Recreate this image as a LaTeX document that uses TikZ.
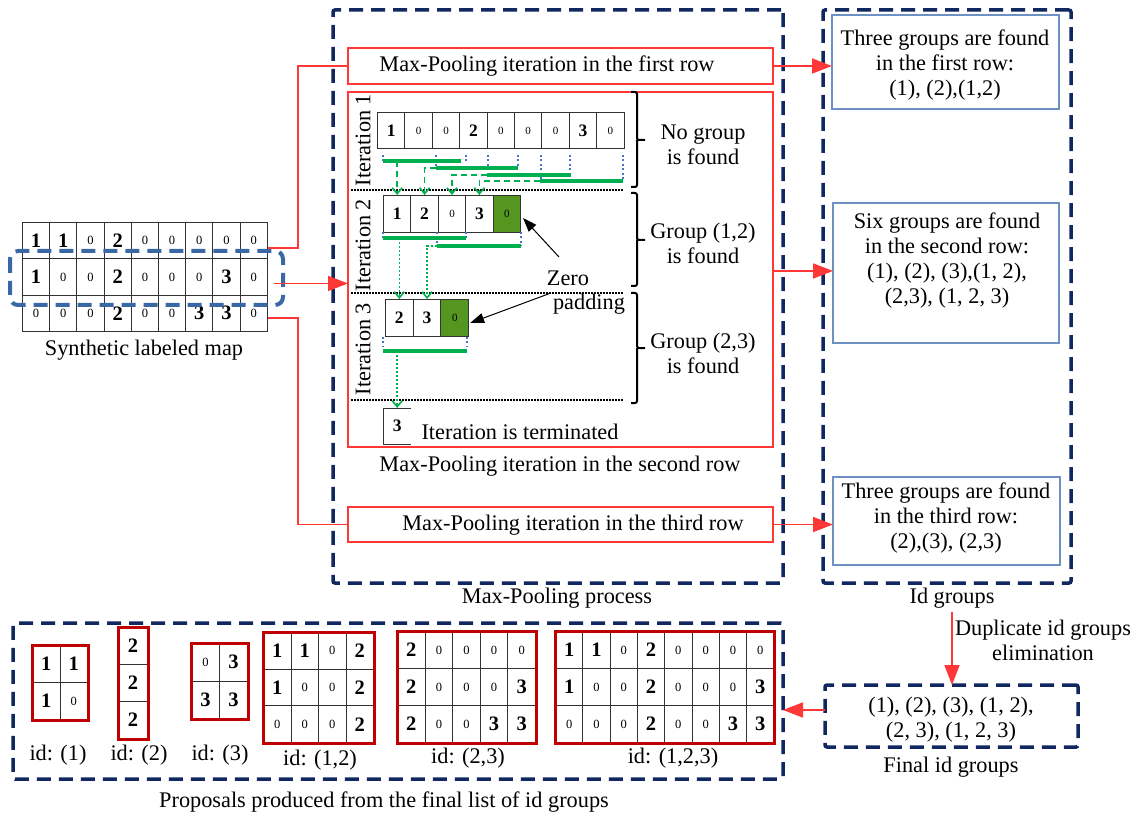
\documentclass[tikz,border=0pt]{standalone}
\usepackage{fontspec}
\setmainfont{Liberation Serif}
\usetikzlibrary{arrows.meta,calc,fit}
\definecolor{navy}{RGB}{16,40,95}
\definecolor{rowblue}{RGB}{58,104,165}
\definecolor{redl}{RGB}{255,55,55}
\definecolor{boxblue}{RGB}{110,145,195}
\definecolor{darkred}{RGB}{192,0,0}
\definecolor{gbar}{RGB}{0,176,80}
\definecolor{padgreen}{RGB}{84,150,31}
\definecolor{dotblue}{RGB}{68,114,196}
\newcommand\cellv[1]{\ifnum#1=0 {\fontsize{12.5}{12.5}\selectfont 0}\else{\fontsize{20.5}{20.5}\selectfont\bfseries #1}\fi}
\newcommand\cellw[1]{\ifnum#1=0 {\fontsize{11}{11}\selectfont 0}\else{\fontsize{17.5}{17.5}\selectfont\bfseries #1}\fi}
\tikzset{
  txt/.style={font=\fontsize{22.3}{25}\selectfont, inner sep=0pt, align=center},
  navybox/.style={draw=navy, line width=3.5pt, dash pattern=on 14pt off 8pt, rounded corners=2pt, inner sep=0pt, outer sep=0pt, anchor=north west},
  redbox/.style={draw=redl, line width=1.5pt, inner sep=0pt, outer sep=0pt, anchor=north west},
  bluebox/.style={draw=boxblue, line width=1.2pt, inner sep=0pt, outer sep=0pt, anchor=north west},
  redarrow/.style={color=redl, line width=1.8pt, -{Triangle[length=20pt,width=15pt]}},
  redline/.style={color=redl, line width=1.8pt},
  cellbox/.style={draw=black!80, line width=1pt, inner sep=0pt, anchor=north west},
  propbox/.style={draw=darkred, line width=3pt, inner sep=0pt},
  gbarst/.style={draw=gbar, line width=4pt},
  gdash/.style={color=gbar, line width=1.6pt, dash pattern=on 6pt off 4pt, -{Straight Barb[length=6pt,width=10pt]}},
  gdot/.style={color=gbar, line width=1.6pt, dash pattern=on 2pt off 2pt, -{Straight Barb[length=6pt,width=10pt]}},
  bdot/.style={color=dotblue, line width=2pt, dash pattern=on 2pt off 2.5pt},
  kdot/.style={draw=black, line width=1.5pt, dash pattern=on 1.5pt off 1.5pt},
  brk/.style={draw=black, line width=2pt, rounded corners=2pt},
  zarrow/.style={draw=black, line width=1pt, -{Triangle[length=14pt,width=10pt]}},
}
\newcommand\propgrid[6]{%
  \foreach \row [count=\r] in {#6} {
    \foreach \v [count=\c] in \row {
      \node[cellbox, minimum width=#4pt, minimum height=#5pt] (#1-\r-\c) at ({#2+(\c-1)*#4},{#3+(\r-1)*#5}) {\cellv{\v}};
    }
  }%
}
\begin{document}
\begin{tikzpicture}[x=1pt,y=-1pt]
\useasboundingbox (0,0) rectangle (1146,818);

% ---- dashed frames
\node[navybox, minimum width=450pt, minimum height=573pt] (mp) at (333,10) {};
\node[navybox, minimum width=248pt, minimum height=573pt] (idg) at (823,10) {};
\node[navybox, minimum width=770pt, minimum height=156pt] (prop) at (13,623) {};
\node[navybox, minimum width=253pt, minimum height=62pt] (fin) at (825,685) {};

% ---- synthetic map
\propgrid{m}{22}{222}{27.2}{36.3}{{1,1,0,2,0,0,0,0,0},{1,0,0,2,0,0,0,3,0},{0,0,0,2,0,0,3,3,0}}
\draw[rowblue, line width=4pt, dash pattern=on 14pt off 8pt, rounded corners=8pt] (10,251) rectangle (283,305);
\node[txt] (lmap) at (144,350) {Synthetic labeled map};

% ---- red boxes
\node[redbox, minimum width=425pt, minimum height=36pt] (r1) at (348,48) {};
\node[txt] (r1t) at (547,66) {Max-Pooling iteration in the first row};
\node[redbox, minimum width=425pt, minimum height=355pt] (it) at (348,92) {};
\node[redbox, minimum width=425pt, minimum height=35pt] (r3) at (348,507) {};
\node[txt] (r3t) at (573,525) {Max-Pooling iteration in the third row};
\node[txt] (l2) at (560,466) {Max-Pooling iteration in the second row};
\node[txt] (lmp) at (557,598) {Max-Pooling process};

% ---- blue boxes
\node[bluebox, minimum width=227pt, minimum height=94pt] (b1) at (832,15) {};
\node[txt] (b1t) at (945,65) {Three groups are found\\in the first row:\\(1), (2),(1,2)};
\node[bluebox, minimum width=226pt, minimum height=140pt] (b2) at (833,203) {};
\node[txt] (b2t) at (947,261) {Six groups are found\\in the second row:\\(1), (2), (3),(1, 2),\\ (2,3), (1, 2, 3)};
\node[bluebox, minimum width=227pt, minimum height=88pt] (b3) at (833,477) {};
\node[txt] (b3t) at (946,518) {Three groups are found\\in the third row:\\(2),(3), (2,3)};
\node[txt] (lidg) at (952,598) {Id groups};
\node[txt] (ldup) at (1043,640) {Duplicate id groups\\elimination};
\node[txt] (fint) at (951,720) {(1), (2), (3), (1, 2),\\(2, 3), (1, 2, 3)};
\node[txt] (lfin) at (951,767) {Final id groups};
\node[txt] (lprop) at (384,802) {Proposals produced from the final list of id groups};

% ---- red connectors
\coordinate (vx) at (298,0);
\coordinate (m1e) at ($(m-1-9.east)+(0,7.5)$);
\coordinate (m2e) at ($(m-2-9.east)+(6,6.5)$);
\coordinate (m3e) at ($(m-3-9.east)+(0,4.5)$);
\draw[redline] (m1e) -| (vx |- r1.west) -- (r1.west);
\draw[redarrow] (m2e) -- (m2e -| it.west);
\draw[redline] (m3e) -| (vx |- r3.west) -- (r3.west);
\draw[redarrow] (r1.east) -- (r1.east -| b1.west);
\coordinate (ite) at ($(it.east)+(0,1.5)$);
\draw[redarrow] (ite) -- (ite -| b2.west);
\draw[redarrow] (r3.east) -- (r3.east -| b3.west);
\coordinate (ls) at ($(lidg.south)+(0,4)$);
\draw[redarrow] (ls) -- (ls |- fin.north);
\coordinate (fw) at ($(fin.west)+(0,-6)$);
\draw[redarrow] (fw) -- (fw -| prop.east);

% ---- iteration labels and separators
\node[txt, rotate=90] (i1) at (363,140) {Iteration 1};
\node[txt, rotate=90] (i2) at (363,245) {Iteration 2};
\node[txt, rotate=90] (i3) at (363,349) {Iteration 3};
\draw[kdot] (351,190) -- (623,190);
\draw[kdot] (351,293) -- (623,293);
\draw[kdot] (351,400) -- (623,400);

% ---- iteration 1
\foreach \v [count=\c] in {1,0,0,2,0,0,0,3,0}
  \node[cellbox, minimum width=27.4pt, minimum height=36pt] (a-\c) at ({377+(\c-1)*27.4},112) {\cellw{\v}};
\foreach \x/\y in {383/161,466/161,436/168,518/168,488/175,570/175,541/181,623/181}
  \draw[bdot] (\x,155) -- (\x,\y);

% ---- iteration 2 cells
\foreach \v [count=\c] in {1,2,0,3}
  \node[cellbox, minimum width=27.4pt, minimum height=37pt] (b-\c) at ({383+(\c-1)*27.4},195) {\cellw{\v}};
\node[cellbox, fill=padgreen, minimum width=27.4pt, minimum height=37pt] (b-5) at ({383+4*27.4},195) {\cellw{0}};

\coordinate (g1s) at (383,161); \coordinate (g1e) at (461,161);
\coordinate (g2s) at (436,168); \coordinate (g2e) at (518,168);
\coordinate (g3s) at (487,175); \coordinate (g3e) at (571,175);
\coordinate (g4s) at (540,181); \coordinate (g4e) at (623,181);
\draw[gdash] (g1s -| b-1.north) -- (b-1.north);
\draw[gdash] (g2s) -| (b-2.north);
\draw[gdash] (g3s) -| (b-3.north);
\draw[gdash] (g4s) -| (b-4.north);
\draw[gbarst] (g1s) -- (g1e);
\draw[gbarst] (g2s) -- (g2e);
\draw[gbarst] (g3s) -- (g3e);
\draw[gbarst] (g4s) -- (g4e);

% ---- iteration 3 cells
\foreach \v [count=\c] in {2,3}
  \node[cellbox, minimum width=27.7pt, minimum height=37pt] (c-\c) at ({385+(\c-1)*27.7},299) {\cellw{\v}};
\node[cellbox, fill=padgreen, minimum width=27.7pt, minimum height=37pt] (c-3) at ({385+2*27.7},299) {\cellw{0}};

\foreach \x/\y in {383/238,466/238,437/246,521/246}
  \draw[bdot] (\x,232) -- (\x,\y);
\coordinate (h1s) at (383,238); \coordinate (h1e) at (466,238);
\coordinate (h2s) at (437,246); \coordinate (h2e) at (521,246);
\draw[gdot] (h1s -| c-1.north) -- (c-1.north);
\draw[gdot] (h2s) -| (c-2.north);
\draw[gbarst] (h1s) -- (h1e);
\draw[gbarst] (h2s) -- (h2e);

% ---- final cell
\node[inner sep=0pt, anchor=north west, minimum width=28pt, minimum height=36pt] (d) at (383,408) {\cellw{3}};
\draw[black!80, line width=1pt] (d.north east) -- (d.north west) -- (d.south west) -- (d.south east);
\foreach \x in {383,467}
  \draw[bdot] (\x,337) -- (\x,347);
\coordinate (k1s) at (383,351); \coordinate (k1e) at (467,351);
\draw[gdot] (k1s -| d.north) -- (d.north);
\draw[gbarst] (k1s) -- (k1e);
\node[txt] (term) at (520,432) {Iteration is terminated};

% ---- zero padding
\node[txt] (zero) at (568,278) {Zero};
\node[txt] (padd) at (589,304) {padding};
\coordinate (zs1) at (559,257);
\coordinate (zs2) at (551,293);
\draw[zarrow] (zs1) -- ($(b-5.east)+(2,4)$);
\draw[zarrow] (zs2) -- ($(c-3.east)+(1,5)$);

% ---- braces
\draw[brk] (631,92) -- (637,92) -- (637,140) -- (645,140) (637,140) -- (637,187) -- (631,187);
\draw[brk] (631,193) -- (637,193) -- (637,240) -- (645,240) (637,240) -- (637,286) -- (631,286);
\draw[brk] (631,293) -- (637,293) -- (637,348) -- (645,348) (637,348) -- (637,403) -- (631,403);
\node[txt] (t1) at (703,145) {No group\\is found};
\node[txt] (t2) at (703,243) {Group (1,2)\\is found};
\node[txt] (t3) at (703,353) {Group (2,3)\\is found};

% ---- proposals
\propgrid{pa}{32}{645}{27.5}{37}{{1,1},{1,0}}
\node[propbox, fit=(pa-1-1)(pa-2-2)] (p1) {};
\propgrid{pb}{118}{627}{29}{37}{{2},{2},{2}}
\node[propbox, fit=(pb-1-1)(pb-3-1)] (p2) {};
\propgrid{pc}{191}{643}{28}{37.5}{{0,3},{3,3}}
\node[propbox, fit=(pc-1-1)(pc-2-2)] (p3) {};
\propgrid{pd}{263}{632}{27.5}{36.7}{{1,1,0,2},{1,0,0,2},{0,0,0,2}}
\node[propbox, fit=(pd-1-1)(pd-3-4)] (p4) {};
\propgrid{pe}{397}{631}{27.6}{37}{{2,0,0,0,0},{2,0,0,0,3},{2,0,0,3,3}}
\node[propbox, fit=(pe-1-1)(pe-3-5)] (p5) {};
\propgrid{pf}{555}{631}{27.3}{37}{{1,1,0,2,0,0,0,0},{1,0,0,2,0,0,0,3},{0,0,0,2,0,0,3,3}}
\node[propbox, fit=(pf-1-1)(pf-3-8)] (p6) {};
\node[txt] (p1l) at (58,755) {id: (1)};
\node[txt] (p2l) at (139,755) {id: (2)};
\node[txt] (p3l) at (220,755) {id: (3)};
\node[txt] (p4l) at (320,760) {id: (1,2)};
\node[txt] (p5l) at (468,758) {id: (2,3)};
\node[txt] (p6l) at (673,758) {id: (1,2,3)};
\end{tikzpicture}
\end{document}
